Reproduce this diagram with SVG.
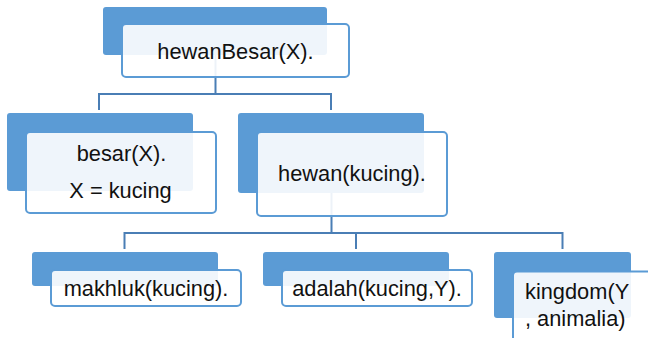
<svg xmlns="http://www.w3.org/2000/svg" width="648" height="338" viewBox="0 0 648 338">
  <style>
    .back { fill: #5B9BD5; }
    .front { fill: #FFFFFF; fill-opacity: 0.9; stroke: #5B9BD5; stroke-width: 2; }
    .conn { fill: none; stroke: #4A7EB5; stroke-width: 2; }
    .lbl { font-family: "Liberation Sans", Arial, sans-serif; font-size: 21.8px; fill: #111111; text-anchor: middle; }
    .lbl-start { text-anchor: start; }
  </style>
  <rect width="648" height="338" fill="#FFFFFF"/>

  <!-- tree connectors -->
  <g id="connectors">
    <path class="conn" d="M215.5,55 V94 M99,110 V94 H331 V110"/>
    <path class="conn" d="M331.5,193 V233 M124.5,249 V233 H562.5 V249 M356,233 V249"/>
  </g>

  <g id="node-hewanBesar">
    <rect class="back" x="103" y="7" width="224" height="48" rx="3"/>
    <rect class="front" x="122" y="24" width="227" height="53" rx="4"/>
    <text class="lbl" x="235.5" y="58.5">hewanBesar(X).</text>
  </g>

  <g id="node-besar">
    <rect class="back" x="7" y="113" width="186" height="78" rx="3"/>
    <rect class="front" x="26" y="132" width="190" height="81" rx="4"/>
    <text class="lbl" x="121.5" y="161">besar(X).</text>
    <text class="lbl" x="120.5" y="198">X = kucing</text>
  </g>

  <g id="node-hewan">
    <rect class="back" x="238" y="113" width="186" height="80" rx="3"/>
    <rect class="front" x="257" y="132" width="190" height="84" rx="4"/>
    <text class="lbl" x="352" y="180.5">hewan(kucing).</text>
  </g>

  <g id="node-makhluk">
    <rect class="back" x="32" y="252" width="186" height="34" rx="3"/>
    <rect class="front" x="51" y="270" width="190" height="36" rx="4"/>
    <text class="lbl" x="146" y="296">makhluk(kucing).</text>
  </g>

  <g id="node-adalah">
    <rect class="back" x="263" y="252" width="186" height="34" rx="3"/>
    <rect class="front" x="282" y="270" width="190" height="36" rx="4"/>
    <text class="lbl" x="377" y="296">adalah(kucing,Y).</text>
  </g>

  <g id="node-kingdom">
    <rect class="back" x="494" y="252" width="137" height="66" rx="3"/>
    <rect class="front" x="513" y="271.5" width="190" height="90" rx="4"/>
    <text class="lbl lbl-start" x="525" y="299">kingdom(Y</text>
    <text class="lbl lbl-start" x="525" y="325.5">, animalia)</text>
  </g>
</svg>
